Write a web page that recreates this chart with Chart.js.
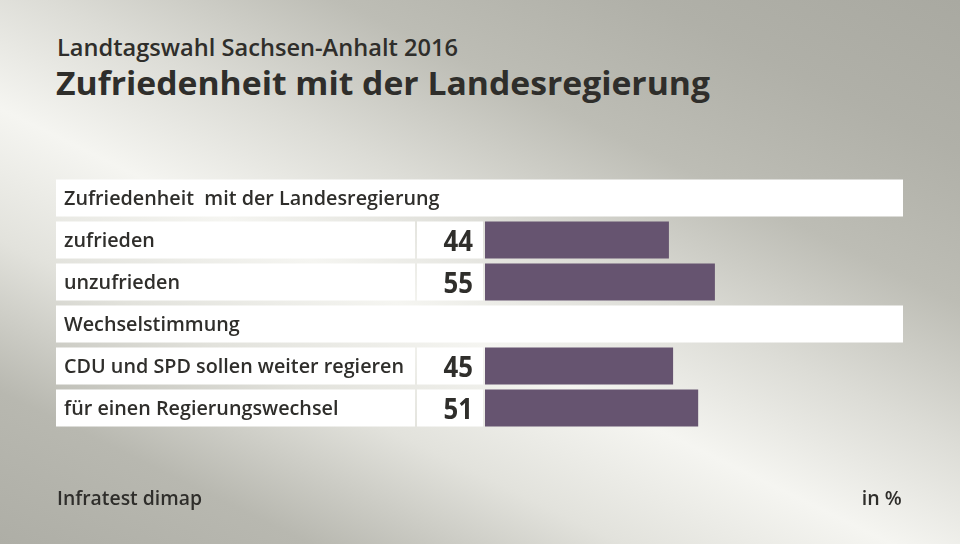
<!DOCTYPE html>
<html lang="de">

<head>
    <meta charset="UTF-8">
    <title>Zufriedenheit mit der Landesregierung</title>
    <script src="https://cdn.jsdelivr.net/npm/chart.js"></script>
    <style>
        html,
        body {
            margin: 0;
            padding: 0;
        }

        body {
            width: 960px;
            height: 544px;
            overflow: hidden;
            position: relative;
            font-family: 'Open Sans', sans-serif;
            color: #2f2e2b;
            background: linear-gradient(26deg, #aeaea6 0%, #b8b8b0 15%, #e2e2dc 30%, #f5f5f1 43%, #dcdcd6 56%, #bdbdb5 70%, #b0b0a8 85%, #a9a9a1 100%);
        }

        .txt {
            position: absolute;
            white-space: nowrap;
            line-height: 1;
            transform-origin: left top;
        }

        .subtitle {
            left: 57px;
            top: 36px;
            font-size: 23px;
            font-weight: 600;
        }

        .title {
            left: 56px;
            top: 66px;
            font-size: 33px;
            font-weight: 700;
        }

        .source {
            left: 57px;
            top: 488px;
            font-size: 20px;
            font-weight: 600;
        }

        .unit {
            right: 58px;
            top: 488px;
            font-size: 20px;
            font-weight: 600;
            transform-origin: right top;
        }

        #chart {
            position: absolute;
            left: 0;
            top: 0;
        }
    </style>
</head>

<body>
    <div class="txt subtitle" data-w="401">Landtagswahl Sachsen-Anhalt 2016</div>
    <div class="txt title" data-w="654">Zufriedenheit mit der Landesregierung</div>
    <canvas id="chart" width="960" height="544"></canvas>
    <div class="txt source" data-w="145">Infratest dimap</div>
    <div class="txt unit" data-w="40">in %</div>

    <script>
        // Data
        const categories = ['Zufriedenheit  mit der Landesregierung', 'zufrieden', 'unzufrieden',
            'Wechselstimmung', 'CDU und SPD sollen weiter regieren', 'für einen Regierungswechsel'];
        const values = [null, 44, 55, null, 45, 51];
        const headerRows = [true, false, false, true, false, false];

        // squeeze the html texts to the widths of the original (narrower font there)
        document.querySelectorAll('.txt').forEach(function (el) {
            const w = parseFloat(el.dataset.w);
            const s = w / el.getBoundingClientRect().width;
            el.style.transform = 'scaleX(' + s + ')';
        });

        const textColor = '#2f2e2b';
        const rowH = 37;
        const labelFont = '600 20px "Open Sans"';

        // draws the white cells, labels and numbers behind the bars
        const tablePlugin = {
            id: 'table',
            beforeDatasetsDraw(chart) {
                const ctx = chart.ctx;
                const y = chart.scales.y;
                ctx.save();

                ctx.font = labelFont;
                const labelScale = 340 / ctx.measureText(categories[4]).width;

                categories.forEach(function (label, i) {
                    const yc = y.getPixelForValue(i);
                    const top = yc - rowH / 2;
                    ctx.fillStyle = '#ffffff';
                    if (headerRows[i]) {
                        ctx.fillRect(56, top, 847, rowH);
                    } else {
                        ctx.fillRect(56, top, 359, rowH);
                        ctx.fillRect(417, top, 66, rowH);
                    }

                    ctx.fillStyle = textColor;
                    ctx.font = labelFont;
                    ctx.textAlign = 'left';
                    ctx.textBaseline = 'alphabetic';
                    ctx.save();
                    ctx.translate(64, yc + 7);
                    ctx.scale(labelScale, 1);
                    ctx.fillText(label, 0, 0);
                    ctx.restore();

                    if (values[i] !== null) {
                        ctx.font = 'bold 28px "Open Sans"';
                        ctx.textAlign = 'right';
                        ctx.save();
                        ctx.translate(473, yc + 11);
                        ctx.scale(0.92, 1);
                        ctx.fillText(String(values[i]), 0, 0);
                        ctx.restore();
                    }
                });
                ctx.restore();
            }
        };

        new Chart(document.getElementById('chart'), {
            type: 'bar',
            data: {
                labels: categories,
                datasets: [{
                    data: values,
                    backgroundColor: '#665470',
                    borderWidth: 0,
                    categoryPercentage: 1,
                    barPercentage: 0.885
                }]
            },
            options: {
                indexAxis: 'y',
                responsive: false,
                animation: false,
                layout: {
                    padding: { left: 485, right: 57, top: 177, bottom: 115 }
                },
                scales: {
                    x: { display: false, min: 0, max: 100 },
                    y: { display: false }
                },
                plugins: {
                    legend: { display: false },
                    tooltip: { enabled: false }
                }
            },
            plugins: [tablePlugin]
        });
    </script>
</body>

</html>
